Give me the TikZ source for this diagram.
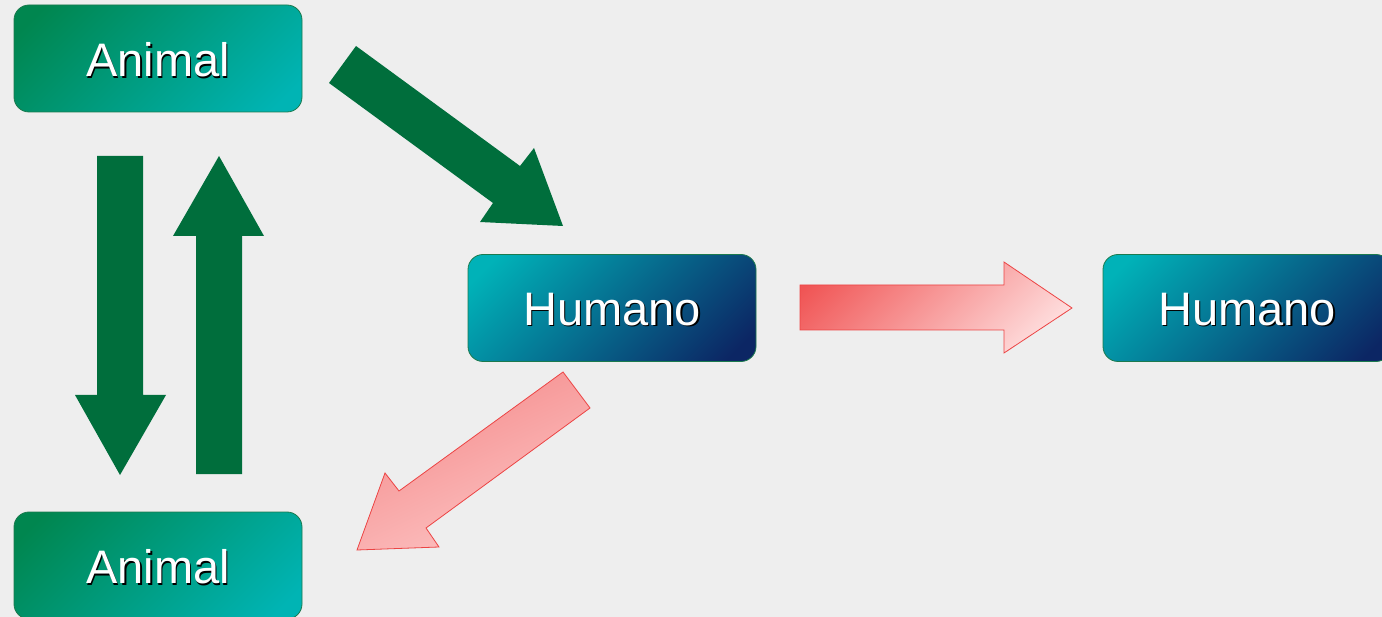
\documentclass[tikz,border=0pt]{standalone}
\usepackage{fontspec}
\setmainfont{Liberation Sans}
\definecolor{bgcol}{HTML}{EEEEEE}
\definecolor{arrowgreen}{HTML}{006E3C}
\definecolor{animalA}{HTML}{00864F}
\definecolor{animalB}{HTML}{00B4B4}
\definecolor{humanA}{HTML}{00B2B8}
\definecolor{humanB}{HTML}{0C2664}
\definecolor{boxline}{HTML}{1B7A4E}
\definecolor{redline}{HTML}{EC4444}
\definecolor{redA}{HTML}{F05454}
\definecolor{redB}{HTML}{FFE6E6}
\definecolor{redC}{HTML}{F48484}
\definecolor{redD}{HTML}{FDCACA}
% linear shadings, top colour at 100bp
\pgfdeclareverticalshading{animalshade}{100bp}{color(0bp)=(animalB); color(20bp)=(animalB); color(80bp)=(animalA); color(100bp)=(animalA)}
\pgfdeclareverticalshading{humanshade}{100bp}{color(0bp)=(humanB); color(20bp)=(humanB); color(80bp)=(humanA); color(100bp)=(humanA)}
\pgfdeclareverticalshading{redshade}{100bp}{color(0bp)=(redB); color(20bp)=(redB); color(80bp)=(redA); color(100bp)=(redA)}
\pgfdeclareverticalshading{pinkshade}{100bp}{color(0bp)=(redD); color(20bp)=(redD); color(80bp)=(redC); color(100bp)=(redC)}
\newcommand\shadowed[1]{\raisebox{-2pt}[\height][\depth]{\makebox[0pt][l]{\hspace{1.6pt}\raisebox{-1.6pt}{\color{black}#1}}\color{white}#1}}
\begin{document}
\begin{tikzpicture}[x=1pt,y=-1pt,
    box/.style={rounded corners=15pt,draw=boxline,line width=0.8pt,
      minimum width=288pt,minimum height=107pt,inner sep=0pt,
      font=\fontsize{47}{56}\selectfont},
    animal/.style={box,shading=animalshade,shading angle=45},
    humano/.style={box,shading=humanshade,shading angle=45},
    greenarrow/.style={fill=arrowgreen},
    redarrow/.style={draw=redline,line width=0.8pt}]
  \fill[bgcol] (0,0) rectangle (1382,617);
  \useasboundingbox (0,0) rectangle (1382,617);
  \node[animal] (animal1) at (158,58.5) {\shadowed{Animal}};
  \node[animal] (animal2) at (158,565.5) {\shadowed{Animal}};
  \node[humano] (humano1) at (612,308) {\shadowed{Humano}};
  \node[humano] (humano2) at (1247,308) {\shadowed{Humano}};
  % green block arrows
  \fill[greenarrow] (97,156) -- (143,156) -- (143,395) -- (166,395) -- (120,475)
    -- (75,395) -- (97,395) -- cycle;
  \fill[greenarrow] (196,474) -- (242,474) -- (242,236) -- (264,236) -- (219,156)
    -- (173,236) -- (196,236) -- cycle;
  \fill[greenarrow] (356,46) -- (520,166) -- (534,148) -- (563,226) -- (480,222)
    -- (493,203) -- (329,83) -- cycle;
  % red block arrows
  \shade[redarrow,shading=redshade,shading angle=45]
    (800,285) -- (1004,285) -- (1004,262) -- (1072,308) -- (1004,353)
    -- (1004,330) -- (800,330) -- cycle;
  \shade[redarrow,shading=pinkshade,shading angle=25]
    (563,372) -- (590,408) -- (426,528) -- (439,547) -- (357,550)
    -- (385,473) -- (399,491) -- cycle;
\end{tikzpicture}
\end{document}
